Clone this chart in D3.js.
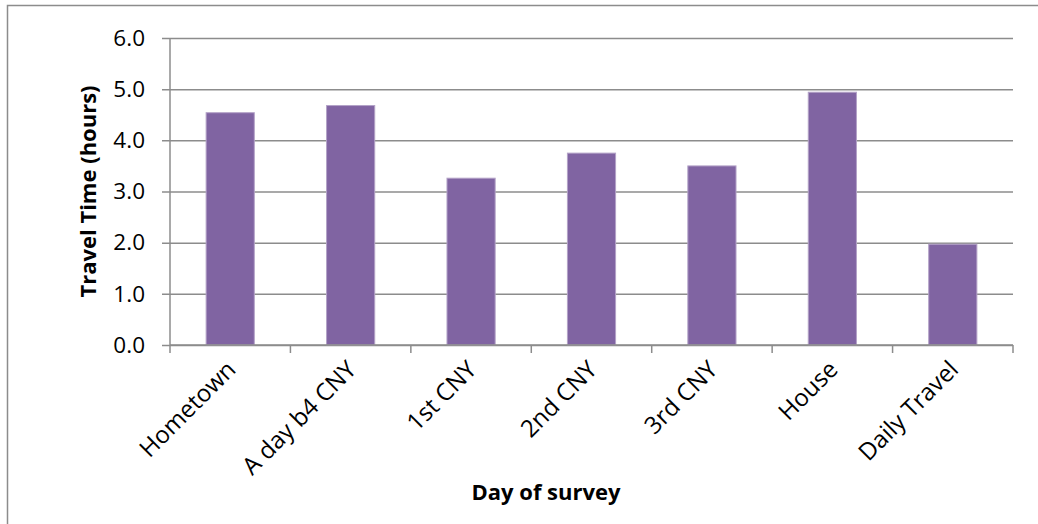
<!DOCTYPE html>
<html>
<head>
<meta charset="utf-8">
<script src="https://cdn.jsdelivr.net/npm/d3@7"></script>
<style>
  html, body { margin: 0; padding: 0; background: #fff; }
  svg { display: block; }
  text { font-family: "Open Sans", "Noto Sans", sans-serif; fill: #000; }
</style>
</head>
<body>
<svg id="chart" width="1038" height="524"></svg>
<script>
// Survey days and mean travel time in hours
const categories = ["Hometown", "A day b4 CNY", "1st CNY", "2nd CNY", "3rd CNY", "House", "Daily Travel"];
const travelHours = [4.54, 4.68, 3.26, 3.75, 3.50, 4.94, 1.97];
const yTicks = [0, 1, 2, 3, 4, 5, 6];

const svg = d3.select("#chart");
const plot = { left: 170, right: 1013, top: 38, bottom: 345 };

// Outer chart frame (only the top and left edges fall inside the canvas)
svg.append("rect")
  .attr("x", 7.5).attr("y", 5.5)
  .attr("width", 1100).attr("height", 600)
  .attr("fill", "none").attr("stroke", "#8c8c8c").attr("stroke-width", 1.5);

const x = d3.scaleBand().domain(categories).range([plot.left, plot.right]).paddingInner(0.6).paddingOuter(0.3);
const y = d3.scaleLinear().domain([0, 6]).range([plot.bottom, plot.top]);

// Horizontal gridlines with short outward ticks
const yAxis = d3.axisLeft(y).tickValues(yTicks).tickSize(-(plot.right - plot.left)).tickFormat(d3.format(".1f"));
const gy = svg.append("g").attr("transform", `translate(${plot.left},0)`).call(yAxis);
gy.select(".domain").remove();
gy.selectAll(".tick line").attr("x1", -8).attr("stroke", "#8c8c8c").attr("stroke-width", 1.5);
gy.selectAll(".tick text").attr("font-size", 22.5).attr("font-family", "Open Sans").attr("fill", "#000").attr("x", -25);

// Vertical axis line
svg.append("line")
  .attr("x1", plot.left).attr("x2", plot.left)
  .attr("y1", plot.top).attr("y2", plot.bottom)
  .attr("stroke", "#8c8c8c").attr("stroke-width", 1.5);

// Bars
svg.append("g").selectAll("rect")
  .data(categories)
  .join("rect")
  .attr("x", d => x(d))
  .attr("width", x.bandwidth())
  .attr("y", (d, i) => y(travelHours[i]))
  .attr("height", (d, i) => y(0) - y(travelHours[i]))
  .attr("fill", "#8064a2")
  .attr("stroke", "#b3a2c7")
  .attr("stroke-width", 1);

// Category axis with ticks at band boundaries
const boundaries = d3.range(categories.length + 1).map(i => plot.left + i * (plot.right - plot.left) / categories.length);
const gx = svg.append("g");
gx.append("line")
  .attr("x1", plot.left).attr("x2", plot.right)
  .attr("y1", plot.bottom).attr("y2", plot.bottom)
  .attr("stroke", "#8c8c8c").attr("stroke-width", 1.5);
gx.selectAll("line.tk")
  .data(boundaries)
  .join("line")
  .attr("class", "tk")
  .attr("x1", d => d).attr("x2", d => d)
  .attr("y1", plot.bottom).attr("y2", plot.bottom + 8)
  .attr("stroke", "#8c8c8c").attr("stroke-width", 1.5);

gx.selectAll("text.cat")
  .data(categories)
  .join("text")
  .attr("class", "cat")
  .attr("text-anchor", "end")
  .attr("font-size", 24)
  .attr("transform", d => `translate(${x(d) + x.bandwidth() / 2 + 7},${plot.bottom + 26}) rotate(-45)`)
  .text(d => d);

// Axis titles
svg.append("text")
  .attr("text-anchor", "middle")
  .attr("font-weight", "bold")
  .attr("font-size", 22)
  .attr("transform", `translate(96,${(plot.top + plot.bottom) / 2}) rotate(-90)`)
  .text("Travel Time (hours)");

svg.append("text")
  .attr("text-anchor", "middle")
  .attr("font-weight", "bold")
  .attr("font-size", 22)
  .attr("x", 546).attr("y", 500)
  .text("Day of survey");
</script>
</body>
</html>
